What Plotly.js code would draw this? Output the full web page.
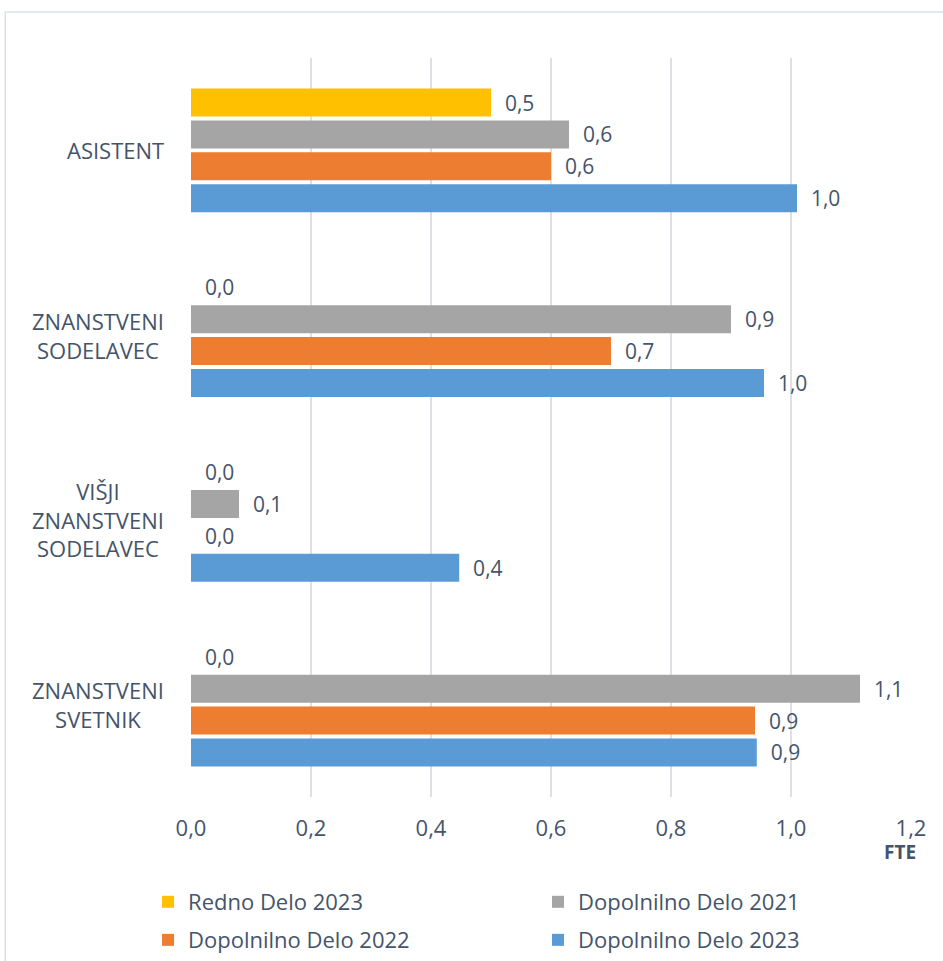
<!DOCTYPE html>
<html>
<head>
<meta charset="utf-8">
<script src="https://cdn.plot.ly/plotly-3.0.1.min.js"></script>
<style>
  html, body { margin: 0; padding: 0; background: #ffffff; }
  #chart { width: 943px; height: 961px; }
</style>
</head>
<body>
<div id="chart"></div>
<script>
/* FTE po delovnih mestih - grouped horizontal bars */

const categories = ['ASISTENT', 'ZNANSTVENI<br>SODELAVEC', 'VIŠJI<br>ZNANSTVENI<br>SODELAVEC', 'ZNANSTVENI<br>SVETNIK'];

const seriesNames = ['Redno Delo 2023', 'Dopolnilno Delo 2021', 'Dopolnilno Delo 2022', 'Dopolnilno Delo 2023'];
const seriesColors = ['#FFC000', '#A5A5A5', '#ED7D31', '#5B9BD5'];

const rednoDelo2023 = [0.50, 0.0, 0.0, 0.0];
const dopolnilno2021 = [0.63, 0.90, 0.08, 1.115];
const dopolnilno2022 = [0.60, 0.70, 0.0, 0.94];
const dopolnilno2023 = [1.01, 0.955, 0.447, 0.943];

const xTicks = [0, 0.2, 0.4, 0.6, 0.8, 1.0, 1.2];

const textColor = '#44546A';
const fontFamily = '"Open Sans", "Noto Sans", sans-serif';

const allValues = [rednoDelo2023, dopolnilno2021, dopolnilno2022, dopolnilno2023];
const legendIds = ['legend', 'legend2', 'legend3', 'legend4'];

const data = allValues.map(function(vals, i) {
  return {
    type: 'bar',
    orientation: 'h',
    name: seriesNames[i],
    legend: legendIds[i],
    x: vals,
    y: categories,
    marker: { color: seriesColors[i] },
    texttemplate: '\u00a0\u00a0%{x:.1f}',
    textposition: 'outside',
    constraintext: 'none', // don't shrink labels to the bar thickness
    cliponaxis: false,
    textfont: { family: fontFamily, size: 21, color: textColor },
    hoverinfo: 'x+name',
  };
});

// category labels: right-aligned block, lines centred
const catAnnos = categories.map(function(c) {
  return {
    xref: 'paper', yref: 'y',
    x: -0.035, y: c,
    xanchor: 'right', yanchor: 'middle',
    align: 'center',
    text: c,
    showarrow: false,
    font: { family: fontFamily, size: 22, color: textColor },
  };
});

// one legend per entry so the 2x2 grid sits where the original has it
// (container coords so they don't push the plot margins)
function legendAt(x, y) {
  return {
    orientation: 'h',
    xref: 'container', yref: 'container',
    x: x, xanchor: 'left',
    y: y, yanchor: 'middle',
    itemwidth: 30,
    bgcolor: 'rgba(0,0,0,0)',
    font: { family: fontFamily, size: 22, color: textColor },
  };
}

const layout = {
  width: 943,
  height: 961,
  separators: ', ',
  barmode: 'group',
  bargap: 0.31,
  bargroupgap: 0.12,
  plot_bgcolor: '#ffffff',
  paper_bgcolor: '#ffffff',
  margin: { l: 191, r: 32, t: 58, b: 164, autoexpand: false },
  showlegend: true,
  legend: legendAt(0.157, 0.0614),
  legend2: legendAt(0.5705, 0.0614),
  legend3: legendAt(0.157, 0.0218),
  legend4: legendAt(0.5705, 0.0218),
  xaxis: {
    range: [0, 1.2],
    tickvals: xTicks,
    tickformat: '.1f',
    showgrid: true,
    gridcolor: '#DDE1E6',
    gridwidth: 1.5,
    zeroline: false,
    showline: false,
    ticks: '',
    ticklabelstandoff: 16,
    tickfont: { family: fontFamily, size: 22, color: textColor },
    fixedrange: true,
  },
  yaxis: {
    type: 'category',
    autorange: 'reversed',
    showticklabels: false,
    showgrid: false,
    zeroline: false,
    showline: false,
    ticks: '',
    fixedrange: true,
  },
  annotations: catAnnos.concat([{
    xref: 'paper', yref: 'paper',
    x: 0.985, y: -0.074,
    xanchor: 'center', yanchor: 'middle',
    text: '<b>FTE</b>',
    showarrow: false,
    font: { family: fontFamily, size: 19, color: textColor },
  }]),
  shapes: [{
    type: 'rect',
    xref: 'paper', yref: 'paper',
    x0: -0.258, x1: 1.1,
    y0: -0.4, y1: 1.0622,
    line: { color: '#DDE1E6', width: 1.5 },
    fillcolor: 'rgba(0,0,0,0)',
    layer: 'below',
  }],
};

const config = { displayModeBar: false, staticPlot: true };

Plotly.newPlot('chart', data, layout, config);
</script>
</body>
</html>
